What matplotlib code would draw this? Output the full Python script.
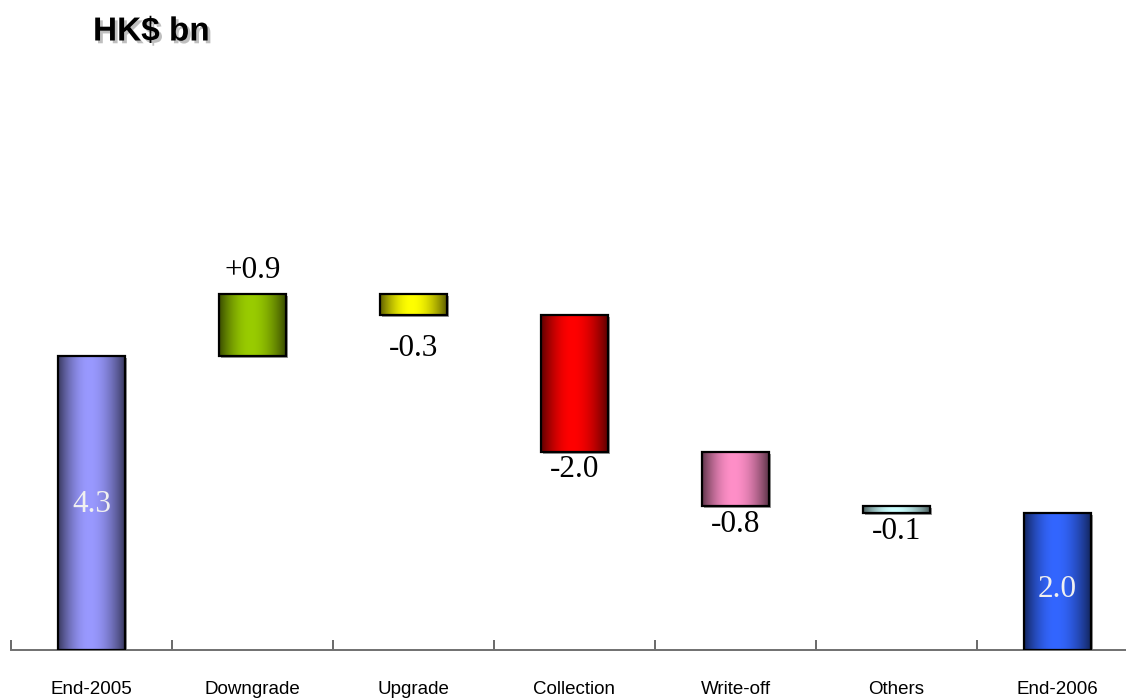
import numpy as np
import matplotlib
matplotlib.use("Agg")
import matplotlib.pyplot as plt
from matplotlib.patches import Rectangle
from matplotlib import transforms
import matplotlib.patheffects as pe
from matplotlib.colors import to_rgb

# Waterfall of classified loans, HK$ bn
categories = ["End-2005", "Downgrade", "Upgrade", "Collection", "Write-off", "Others", "End-2006"]
values = [4.3, 0.9, -0.3, -2.0, -0.8, -0.1, 2.0]
is_total = [True, False, False, False, False, False, True]
value_labels = ["4.3", "+0.9", "-0.3", "-2.0", "-0.8", "-0.1", "2.0"]
bar_colors = ["#9999FF", "#99CC00", "#FFFF00", "#FF0000", "#FF8FC8", "#CCFFFF", "#3366FF"]

W, H = 1126, 698
fig = plt.figure(figsize=(W / 100, H / 100), dpi=100)
ymax = 8.0
ax = fig.add_axes([11 / W, 48 / H, 1127 / W, ymax * 68.4 / H])

bar_w = 0.41
serif = ["Liberation Serif", "DejaVu Serif"]
label_size = 22.5


def gradient_image(color, n=200):
    base = np.array(to_rgb(color))
    t = np.linspace(0, 1, n)
    peak = 0.47
    d = np.where(t < peak, (peak - t) / peak, (t - peak) / (1 - peak))
    f = 0.36 + 0.64 * np.cos(np.clip(d, 0, 1) * np.pi / 2) ** 0.9
    img = base[None, :] * f[:, None]
    return img[None, :, :]


running = 0.0
for i, (v, tot, lab, col) in enumerate(zip(values, is_total, value_labels, bar_colors)):
    if tot:
        bottom, top = 0.0, v
        running = v
    else:
        start = running
        running = running + v
        bottom, top = min(start, running), max(start, running)
    x0, x1 = i - bar_w / 2, i + bar_w / 2

    # drop shadow
    shadow_tr = transforms.offset_copy(ax.transData, fig=fig, x=2, y=-2, units="dots")
    ax.add_patch(Rectangle((x0, bottom), bar_w, top - bottom, transform=shadow_tr,
                           facecolor="#9a9a9a", edgecolor="none", zorder=1))
    # shaded body
    ax.imshow(gradient_image(col), extent=(x0, x1, bottom, top), aspect="auto",
              interpolation="bilinear", zorder=2)
    ax.add_patch(Rectangle((x0, bottom), bar_w, top - bottom, facecolor="none",
                           edgecolor="black", linewidth=1.6, zorder=3))

    # value label
    if tot:
        ymid = (bottom + top) / 2
        dy = -6 if i == len(values) - 1 else -1
        ax.annotate(lab, (i, ymid), xytext=(0, dy), textcoords="offset points",
                    ha="center", va="center", fontsize=label_size, color="#F0F0F0",
                    family=serif, zorder=4)
    elif v > 0:
        ax.annotate(lab, (i, top), xytext=(0, 17), textcoords="offset points",
                    ha="center", va="center", fontsize=label_size, color="black",
                    family=serif, zorder=4)
    else:
        off = -24 if i == 2 else -13
        ax.annotate(lab, (i, bottom), xytext=(0, off), textcoords="offset points",
                    ha="center", va="center", fontsize=label_size, color="black",
                    family=serif, zorder=4)

ax.set_xlim(-0.5, len(categories) - 0.5)
ax.set_ylim(0, ymax)

for s in ["left", "top", "right"]:
    ax.spines[s].set_visible(False)
ax.spines["bottom"].set_color("#707070")
ax.spines["bottom"].set_linewidth(1.4)
ax.set_yticks([])

# boundary ticks between categories, labels centred under bars
ax.set_xticks(np.arange(-0.5, len(categories), 1.0))
ax.set_xticklabels([])
ax.tick_params(axis="x", which="major", direction="in", length=7, width=1.2, color="#505050")
ax.set_xticks(np.arange(len(categories)), minor=True)
ax.set_xticklabels(categories, minor=True,
                   fontdict={"family": ["Liberation Sans Narrow", "Liberation Sans", "DejaVu Sans"],
                             "size": 13.5})
ax.tick_params(axis="x", which="minor", length=0, pad=22)

fig.text(93 / W, 1 - 32 / H, "HK$ bn", fontsize=24, fontweight="bold",
         family=["Liberation Sans", "DejaVu Sans"], va="center", ha="left",
         path_effects=[pe.withSimplePatchShadow(offset=(2, -2), shadow_rgbFace="#b0b0b0", alpha=0.8)])

fig.savefig("out.png", dpi=100)
